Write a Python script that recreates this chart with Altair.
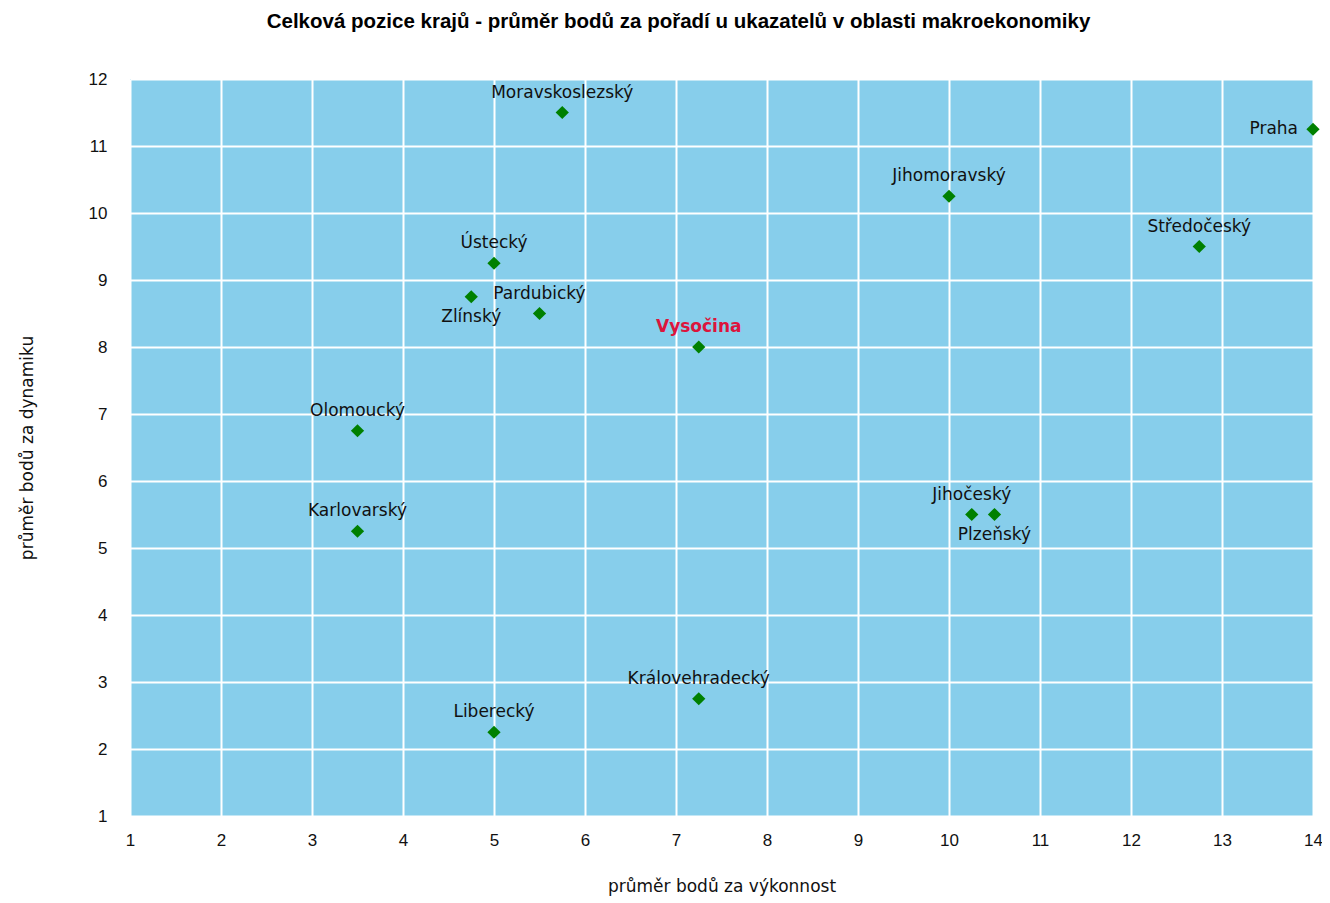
import altair as alt
import pandas as pd

regions = ["Praha", "Moravskoslezský", "Jihomoravský", "Středočeský", "Ústecký",
           "Pardubický", "Zlínský", "Vysočina", "Olomoucký", "Karlovarský",
           "Jihočeský", "Plzeňský", "Královehradecký", "Liberecký"]
vykonnost = [14, 5.75, 10, 12.75, 5, 5.5, 4.75, 7.25, 3.5, 3.5, 10.25, 10.5, 7.25, 5]
dynamika = [11.25, 11.5, 10.25, 9.5, 9.25, 8.5, 8.75, 8, 6.75, 5.25, 5.5, 5.5, 2.75, 2.25]

x_ticks = list(range(1, 15))
y_ticks = list(range(1, 13))

title_text = "Celková pozice krajů - průměr bodů za pořadí u ukazatelů v oblasti makroekonomiky"
x_title = "průměr bodů za výkonnost"
y_title = "průměr bodů za dynamiku"

df = pd.DataFrame({"kraj": regions, "vykonnost": vykonnost, "dynamika": dynamika})

placement = {"Praha": "left", "Zlínský": "below", "Plzeňský": "below"}
df["place"] = [placement.get(r, "above") for r in regions]
df["highlight"] = [r == "Vysočina" for r in regions]

FONT = "Liberation Sans"
LFONT = "DejaVu Sans"

x_enc = alt.X("vykonnost:Q", scale=alt.Scale(domain=[1, 14], nice=False, zero=False),
              axis=alt.Axis(values=x_ticks, title=x_title, format="d", tickSize=0,
                            labelPadding=16, titlePadding=30, domain=False, labelFlush=False,
                            labelFont=FONT, labelFontSize=17, labelColor="#111",
                            titleFont=LFONT, titleFontSize=17, titleFontWeight="normal",
                            titleColor="#111", gridColor="white", gridWidth=2, gridOpacity=1))
y_enc = alt.Y("dynamika:Q", scale=alt.Scale(domain=[1, 12], nice=False, zero=False),
              axis=alt.Axis(values=y_ticks, title=y_title, format="d", tickSize=0,
                            labelPadding=23, titlePadding=52, domain=False, labelFlush=False,
                            labelFont=FONT, labelFontSize=17, labelColor="#111",
                            titleFont=LFONT, titleFontSize=17, titleFontWeight="normal",
                            titleColor="#111", gridColor="white", gridWidth=2, gridOpacity=1))

base = alt.Chart(df)

points = base.mark_point(shape="diamond", filled=True, size=175, color="#008000", opacity=1).encode(
    x=x_enc, y=y_enc)

above = base.transform_filter(
    "datum.place == 'above' && !datum.highlight"
).mark_text(font=LFONT, fontSize=17, color="#111", dy=-20, baseline="middle", align="center").encode(
    x="vykonnost:Q", y="dynamika:Q", text="kraj:N")

high = base.transform_filter("datum.highlight").mark_text(
    font=LFONT, fontSize=17, fontWeight="bold", color="#DC143C", dy=-20, baseline="middle", align="center"
).encode(x="vykonnost:Q", y="dynamika:Q", text="kraj:N")

below = base.transform_filter("datum.place == 'below'").mark_text(
    font=LFONT, fontSize=17, color="#111", dy=20, baseline="middle", align="center"
).encode(x="vykonnost:Q", y="dynamika:Q", text="kraj:N")

left = base.transform_filter("datum.place == 'left'").mark_text(
    font=LFONT, fontSize=17, color="#111", dx=-15, baseline="middle", align="right"
).encode(x="vykonnost:Q", y="dynamika:Q", text="kraj:N")

chart = alt.layer(points, above, high, below, left).properties(
    width=1183, height=737,
    background="white",
    title=alt.TitleParams(title_text, font=FONT, fontSize=20.5, fontWeight="bold",
                          color="black", anchor="middle", dx=-43, offset=38),
    autosize=alt.AutoSizeParams(type="none"),
    padding={"left": 122, "top": 71, "right": 9, "bottom": 80},
).configure_view(fill="#87CEEB", strokeWidth=0)

chart.save("out.html", embed_options={"renderer": "svg", "actions": False})
